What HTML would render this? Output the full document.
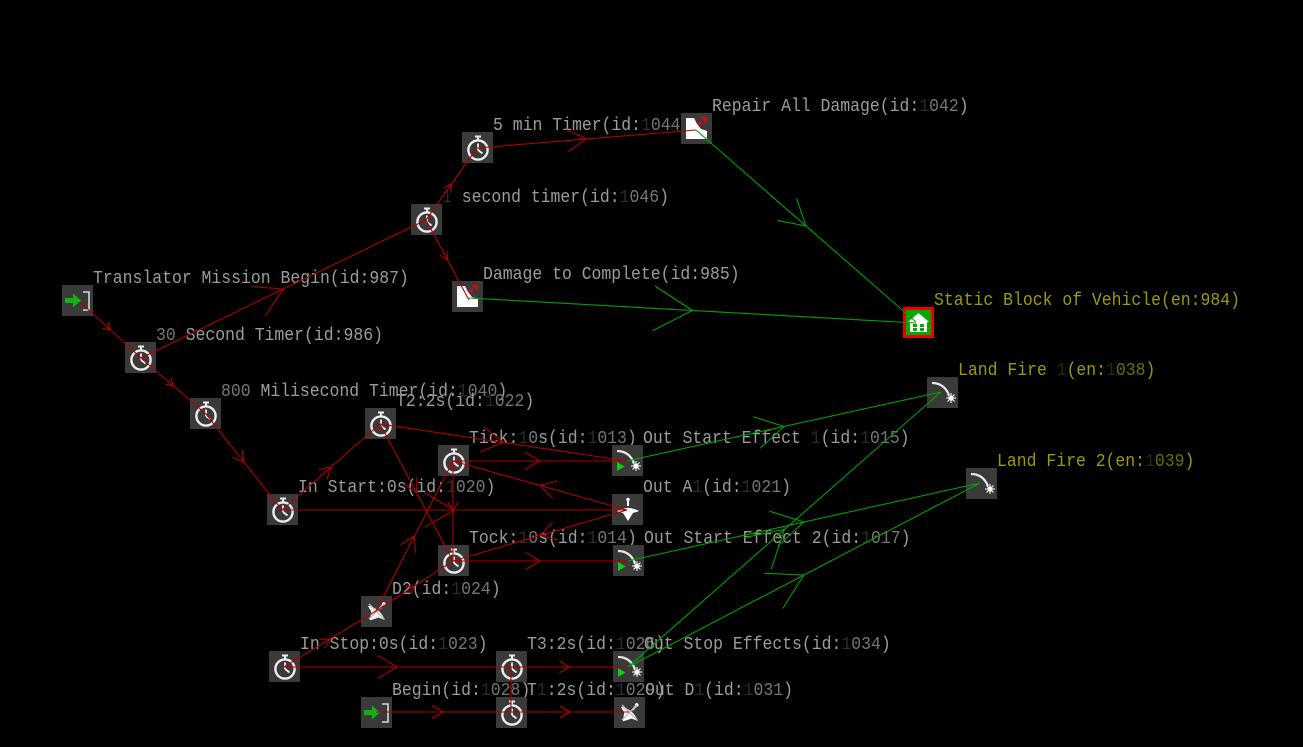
<!DOCTYPE html>
<html><head><meta charset="utf-8"><style>
html,body{margin:0;padding:0;background:#000;}
svg{display:block;}
text{font-family:"Liberation Mono","DejaVu Sans Mono",monospace;font-size:18px;fill:#9c9c9c;}
text.ol{fill:#9c9c00;}
.d{fill:#767676;} .o{fill:#2c2c2c;}
.od{fill:#6e6e00;} .oo{fill:#2c2c00;}
</style></head><body>
<svg width="1303" height="747" viewBox="0 0 1303 747" xmlns="http://www.w3.org/2000/svg">
<defs>
<g id="timer">
<rect width="31" height="31" fill="#3a3a3a"/>
<circle cx="16" cy="18" r="9.6" fill="none" stroke="#eee" stroke-width="2.4"/>
<rect x="15" y="5" width="2" height="4" fill="#eee"/>
<rect x="13" y="3.5" width="6" height="2" fill="#eee"/>
<path d="M16 18V11.5M16 18L20.5 21.5" stroke="#eee" stroke-width="1.8" fill="none"/>
</g>
<g id="entry">
<rect width="31" height="31" fill="#3a3a3a"/>
<path d="M21 7H27V25H21" stroke="#d8d8d8" stroke-width="1.6" fill="none"/>
<polygon points="3,13 11,13 11,8.5 19,15.5 11,22.5 11,18 3,18" fill="#12b012"/>
</g>
<g id="repair">
<rect width="31" height="31" fill="#3a3a3a"/>
<polygon points="5,5 13,5 16,11 20,16 26,18 26,26 5,26" fill="#fff"/>
<polygon points="20,4 26,4 25,10" fill="#e00"/>
<polygon points="16,10 21,8 20,13" fill="#e00"/>
</g>
<g id="house">
<rect x="1.5" y="1.5" width="28" height="28" fill="#0a0" stroke="#e00" stroke-width="3"/>
<polygon points="15.5,6 26,15 24,15 24,25 7,25 7,15 5,15" fill="#fff"/>
<rect x="10" y="17" width="4" height="3" fill="#0a0"/><rect x="10" y="21" width="4" height="3" fill="#0a0"/>
<rect x="17" y="17" width="4" height="3" fill="#0a0"/><rect x="17" y="21" width="4" height="3" fill="#0a0"/>
</g>
<g id="effect">
<rect width="31" height="31" fill="#3a3a3a"/>
<path d="M5 6Q17 6 22 18" stroke="#e8e8e8" stroke-width="2.2" fill="none"/>
<circle cx="24" cy="21" r="2.6" fill="#fff"/>
<path d="M24 16V26M19 21H29M20.5 17.5L27.5 24.5M27.5 17.5L20.5 24.5" stroke="#fff" stroke-width="1"/>
</g>
<g id="effplay">
<use href="#effect"/>
<polygon points="5,17 12.5,21.5 5,26" fill="#1c1"/>
</g>
<g id="topshape">
<line x1="16" y1="4" x2="16" y2="12" stroke="#fff" stroke-width="2"/>
<circle cx="16" cy="5.5" r="1.8" fill="#fff"/>
<path d="M5 17Q16 11 27 17Q16 22 5 17Z" fill="#fff"/>
<polygon points="11,19 21,19 16,27" fill="#fff"/>
</g>
<g id="top">
<rect width="31" height="31" fill="#3a3a3a"/>
<use href="#topshape"/>
</g>
<g id="topx">
<rect width="31" height="31" fill="#3a3a3a"/>
<g transform="rotate(40 16 16)"><use href="#topshape"/></g>
<path d="M8 8L23 23M23 8L8 23" stroke="#bbb" stroke-width="1.5"/>
</g>
</defs>

<!-- labels -->
<text x="93" y="283" textLength="315.8" lengthAdjust="spacingAndGlyphs">Translator Mission Begin(id:987)</text>
<text x="156" y="340" textLength="227" lengthAdjust="spacingAndGlyphs"><tspan class="d">30</tspan> Second Timer(id:986)</text>
<text x="221" y="396" textLength="286.2" lengthAdjust="spacingAndGlyphs"><tspan class="d">800</tspan> Milisecond Timer(id:<tspan class="o">1</tspan><tspan class="d">040</tspan>)</text>
<text x="442" y="202" textLength="227" lengthAdjust="spacingAndGlyphs"><tspan class="o">1</tspan> second timer(id:<tspan class="o">1</tspan><tspan class="d">046</tspan>)</text>
<text x="493" y="130" textLength="197.4" lengthAdjust="spacingAndGlyphs">5 min Timer(id:<tspan class="o">1</tspan><tspan class="d">044</tspan>)</text>
<text x="712" y="111" textLength="256.6" lengthAdjust="spacingAndGlyphs">Repair All Damage(id:<tspan class="o">1</tspan><tspan class="d">042</tspan>)</text>
<text x="483" y="279" textLength="256.6" lengthAdjust="spacingAndGlyphs">Damage to Complete(id:985)</text>
<text class="ol" x="934" y="305" textLength="306" lengthAdjust="spacingAndGlyphs">Static Block of Vehicle(en:984)</text>
<text class="ol" x="958" y="375" textLength="197.4" lengthAdjust="spacingAndGlyphs">Land Fire <tspan class="oo">1</tspan>(en:<tspan class="oo">1</tspan><tspan class="od">038</tspan>)</text>
<text class="ol" x="997" y="466" textLength="197.4" lengthAdjust="spacingAndGlyphs">Land Fire 2(en:<tspan class="oo">1</tspan><tspan class="od">039</tspan>)</text>
<text x="396" y="406" textLength="138.2" lengthAdjust="spacingAndGlyphs">T2:2s(id:<tspan class="o">1</tspan><tspan class="d">022</tspan>)</text>
<text x="469" y="443" textLength="167.8" lengthAdjust="spacingAndGlyphs">Tick:<tspan class="o">1</tspan><tspan class="d">0</tspan>s(id:<tspan class="o">1</tspan><tspan class="d">013</tspan>)</text>
<text x="643" y="443" textLength="266.5" lengthAdjust="spacingAndGlyphs">Out Start Effect <tspan class="o">1</tspan>(id:<tspan class="o">1</tspan><tspan class="d">015</tspan>)</text>
<text x="298" y="492" textLength="197.4" lengthAdjust="spacingAndGlyphs">In Start:0s(id:<tspan class="o">1</tspan><tspan class="d">020</tspan>)</text>
<text x="643" y="492" textLength="148" lengthAdjust="spacingAndGlyphs">Out A<tspan class="o">1</tspan>(id:<tspan class="o">1</tspan><tspan class="d">021</tspan>)</text>
<text x="469" y="543" textLength="167.8" lengthAdjust="spacingAndGlyphs">Tock:<tspan class="o">1</tspan><tspan class="d">0</tspan>s(id:<tspan class="o">1</tspan><tspan class="d">014</tspan>)</text>
<text x="644" y="543" textLength="266.5" lengthAdjust="spacingAndGlyphs">Out Start Effect 2(id:<tspan class="o">1</tspan><tspan class="d">017</tspan>)</text>
<text x="392" y="594" textLength="108.6" lengthAdjust="spacingAndGlyphs">D2(id:<tspan class="o">1</tspan><tspan class="d">024</tspan>)</text>
<text x="300" y="649" textLength="187.5" lengthAdjust="spacingAndGlyphs">In Stop:0s(id:<tspan class="o">1</tspan><tspan class="d">023</tspan>)</text>
<text x="527" y="649" textLength="138.2" lengthAdjust="spacingAndGlyphs">T3:2s(id:<tspan class="o">1</tspan><tspan class="d">026</tspan>)</text>
<text x="644" y="649" textLength="246.8" lengthAdjust="spacingAndGlyphs">Out Stop Effects(id:<tspan class="o">1</tspan><tspan class="d">034</tspan>)</text>
<text x="392" y="695" textLength="138.2" lengthAdjust="spacingAndGlyphs">Begin(id:<tspan class="o">1</tspan><tspan class="d">028</tspan>)</text>
<text x="527" y="695" textLength="138.2" lengthAdjust="spacingAndGlyphs">T<tspan class="o">1</tspan>:2s(id:<tspan class="o">1</tspan><tspan class="d">029</tspan>)</text>
<text x="645" y="695" textLength="148" lengthAdjust="spacingAndGlyphs">Out D<tspan class="o">1</tspan>(id:<tspan class="o">1</tspan><tspan class="d">031</tspan>)</text>

<!-- nodes -->
<use href="#entry" x="62" y="285"/>
<use href="#timer" x="125" y="342"/>
<use href="#timer" x="190" y="398"/>
<use href="#timer" x="411" y="204"/>
<use href="#timer" x="462" y="132"/>
<use href="#repair" x="681" y="113"/>
<use href="#repair" x="452" y="281"/>
<use href="#house" x="903" y="307"/>
<use href="#timer" x="365" y="408"/>
<use href="#timer" x="438" y="445"/>
<use href="#timer" x="267" y="494"/>
<use href="#effplay" x="612" y="445"/>
<use href="#top" x="612" y="494"/>
<use href="#timer" x="438" y="545"/>
<use href="#effplay" x="613" y="545"/>
<use href="#topx" x="361" y="596"/>
<use href="#effect" x="927" y="377"/>
<use href="#effect" x="966" y="468"/>
<use href="#timer" x="269" y="651"/>
<use href="#timer" x="496" y="651"/>
<use href="#effplay" x="613" y="651"/>
<use href="#entry" x="361" y="697"/>
<use href="#timer" x="496" y="697"/>
<use href="#topx" x="614" y="697"/>

<!-- red edges -->
<path fill="none" stroke="#b00000" stroke-width="1.1" d="
M80 302L141 358M108 322.1L110.5 330L102.4 328.2
M141 358L206 414M170.7 377.9L173.5 386L165.1 384.4
M141 358L426 220M251.9 286.7L283.5 289L265.7 315.2
M426 220L477 148M443.5 187.7L451.5 184L450.7 192.8
M426 220L469 300M447.8 250.9L447.5 260L439.8 255.2
M477 148L696 130M566.6 129.6L586.5 139L568.4 151.5
M206 414L282 510M242.2 449.9L244 462L232.6 457.5
M282 510L380 424M318.2 469.5L331 467L326.8 479.4
M282 510L627 510M424.6 492.75L454.5 510L424.6 527.25
M380 424L627 461M484 426.9L503.5 442.5L480.3 451.7
M380 424L453 561M417 477L416.5 492.5L403.3 484.3
M453 461L627 461M524.9 452.3L540 461L524.9 469.7
M627 510L453 461M552.6 498.4L540 485.5L557.5 481
M453 461L453 561M458 502.3L453 511L448 502.3
M453 561L628 561M525.3 552.25L540.5 561L525.3 569.75
M627 510L453 561M557.6 539.8L540 535.5L552.5 522.4
M376 611L453 461M400.3 545.1L414.5 536L415.3 552.8
M376 611L453 561M405.3 586.5L414.5 586L410.3 594.2
M284 667L376 611M319.2 639.3L330 639L324.8 648.5
M284 667L511 667M377.8 655.65L397.5 667L377.8 678.35
M511 667L628 667M559.4 661.2L569.5 667L559.4 672.9
M511 667L511 712M508.75 685.6L511 689.5L513.25 685.6
M376 712L511 712M431.8 705.25L443.5 712L431.8 718.75
M511 712L629 712M559.8 706.1L570 712L559.8 717.9"/>

<!-- green edges -->
<path fill="none" stroke="#00a000" stroke-width="1.1" d="
M696 130L916 322M796.6 198.4L806 226L777.4 220.4
M469 298L916 323M655 286L692.5 310.5L652.5 330.7
M627 461L941 392M753.4 416.8L784 426.5L760.3 448.2
M628 561L980 483M769.6 511.2L804 522L777.4 546.4
M628 667L941 392M743.6 537.7L784.5 529.5L771.2 569
M628 667L980 483M764.3 573.3L804 575L782.7 608.5"/>
</svg>
</body></html>
